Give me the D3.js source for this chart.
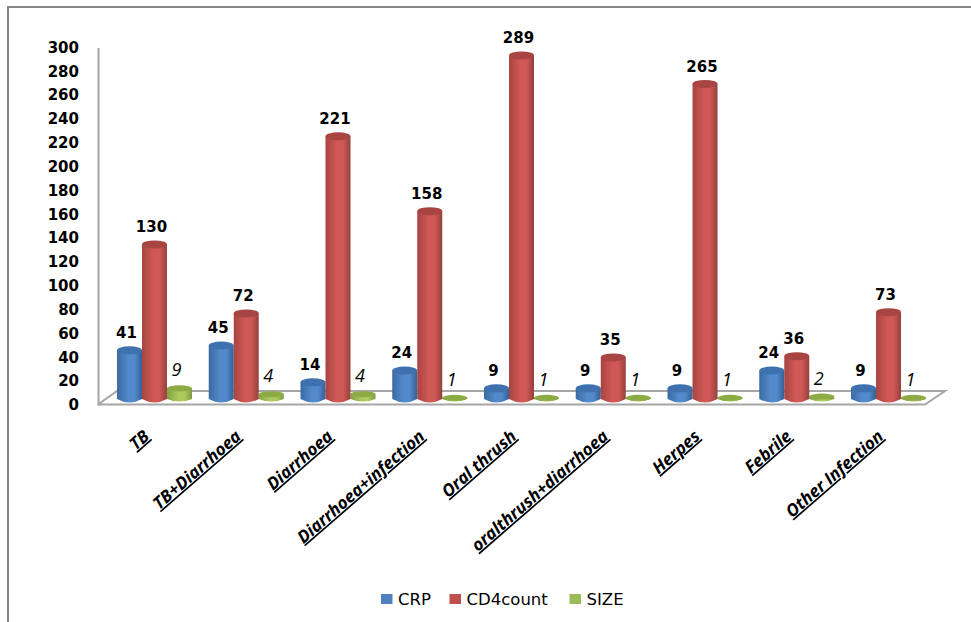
<!DOCTYPE html>
<html>
<head>
<meta charset="utf-8">
<script src="https://cdnjs.cloudflare.com/ajax/libs/d3/7.8.5/d3.min.js"></script>
<style>
html,body{margin:0;padding:0;background:#fff}
svg{display:block}
text{fill:#000}
</style>
</head>
<body>
<svg id="c" width="971" height="622"></svg>
<script>
const categories = ["TB","TB+Diarrhoea","Diarrhoea","Diarrhoea+infection","Oral thrush","oralthrush+diarrhoea","Herpes","Febrile","Other Infection"];
const crp = [41,45,14,24,9,9,9,24,9];
const cd4count = [130,72,221,158,289,35,265,36,73];
const size = [9,4,4,1,1,1,1,2,1];
const yTicks = [0,20,40,60,80,100,120,140,160,180,200,220,240,260,280,300];
const seriesNames = ["CRP","CD4count","SIZE"];
const seriesValues = [crp,cd4count,size];
const seriesColors = ["#4F81BD","#C0504D","#9BBB59"];
const bodyStops = [["#3A6AA3","#528ACB","#345F95"],["#A64441","#D05856","#94403D"],["#83A043","#ABCB5E","#7F9A43"]];
const topColors = ["#3F71AE","#A84543","#8CAB45"];

const svg = d3.select("#c");
const defs = svg.append("defs");
seriesNames.forEach((s,i)=>{
  const g = defs.append("linearGradient").attr("id","g"+i).attr("x1",0).attr("x2",1).attr("y1",0).attr("y2",0);
  [[0,bodyStops[i][0]],[.45,bodyStops[i][1]],[.7,bodyStops[i][1]],[1,bodyStops[i][2]]].forEach(([o,c])=>
    g.append("stop").attr("offset",o).attr("stop-color",c));
});

// frame
svg.append("path").attr("d","M8,622V7H971").attr("fill","none").attr("stroke","#858585").attr("stroke-width",2);

const x0 = d3.scaleBand().domain(categories).range([108.6,934.4]);
const x1 = d3.scaleBand().domain(seriesNames).range([-37.5,37.5]);
const yAxisScale = d3.scaleLinear().domain([0,300]).range([405,47.5]);
const yBar = d3.scaleLinear().domain([0,300]).range([399,42.3]);

// floor
svg.append("path").attr("d","M98,404.5H925L945,391H117L98,404.5")
  .attr("fill","#fff").attr("stroke","#a6a6a6").attr("stroke-width",2);

// axis
const axis = d3.axisLeft(yAxisScale).tickValues(yTicks).tickSize(0).tickPadding(19);
const ag = svg.append("g").attr("transform","translate(98,0)").call(axis);
ag.select(".domain").attr("stroke","#a6a6a6").attr("stroke-width",2);
ag.selectAll("text").attr("font-family","DejaVu Sans").attr("font-weight","bold").attr("font-size",15).attr("fill","#000");

// cylinders (red drawn last so it overlaps its neighbours)
const drawOrder = [0,2,1];
const rx = 12.5;
const ryBy = [4,4,3];
categories.forEach((cat,ci)=>{
  const g = svg.append("g").attr("class","cat");
  drawOrder.forEach(si=>{
    const name = seriesNames[si], v = seriesValues[si][ci];
    const cx = x0(cat)+x0.bandwidth()/2+x1(name)+x1.bandwidth()/2;
    const ry = ryBy[si];
    const top = yBar(v), base = yBar(0);
    const path = d3.path();
    path.moveTo(cx-rx,top);
    path.lineTo(cx-rx,base);
    path.quadraticCurveTo(cx,base+2*ry-1,cx+rx,base);
    path.lineTo(cx+rx,top);
    path.closePath();
    g.append("path").attr("d",path.toString()).attr("fill","url(#g"+si+")");
    g.append("ellipse").attr("cx",cx).attr("cy",top).attr("rx",rx).attr("ry",ry).attr("fill",topColors[si]);
  });
  drawOrder.forEach(si=>{
    const name = seriesNames[si], v = seriesValues[si][ci];
    const cx = x0(cat)+x0.bandwidth()/2+x1(name)+x1.bandwidth()/2;
    const t = g.append("text").attr("x",cx-3).attr("y",yBar(v)-12).attr("text-anchor","middle").text(v);
    if(si===2) t.attr("font-family","Open Sans").attr("font-style","italic").attr("font-size",18).attr("fill","#444");
    else t.attr("font-family","DejaVu Sans").attr("font-weight","bold").attr("font-size",15);
  });
  // category label
  const lx = x0(cat)+x0.bandwidth()/2-4;
  svg.append("text")
    .attr("transform",`translate(${lx},438) rotate(-41)`)
    .attr("text-anchor","end")
    .attr("font-family","Open Sans")
    .attr("font-weight","bold").attr("font-style","italic")
    .attr("font-size",17)
    .attr("text-decoration","underline")
    .text(cat);
});

// legend
const legendSwatchX = d3.scaleOrdinal().domain(seriesNames).range([381,449.5,569.5]);
seriesNames.forEach((s,i)=>{
  const lx = legendSwatchX(s);
  svg.append("rect").attr("x",lx).attr("y",594).attr("width",11.5).attr("height",10).attr("fill",seriesColors[i]);
  svg.append("text").attr("x",lx+17).attr("y",605).attr("font-family","DejaVu Sans").attr("font-size",16.5).attr("fill","#1a1a1a").text(s);
});
</script>
</body>
</html>
